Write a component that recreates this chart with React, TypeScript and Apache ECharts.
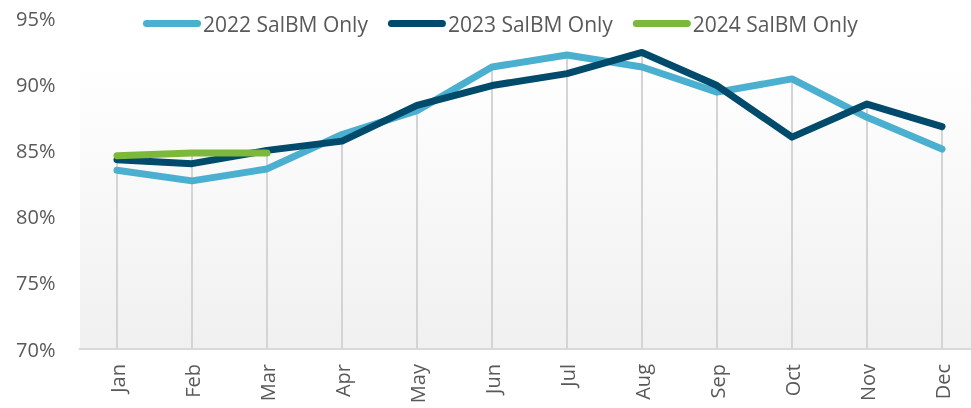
import React, { useEffect, useRef } from "react";
import * as echarts from "echarts";

const months = ["Jan", "Feb", "Mar", "Apr", "May", "Jun", "Jul", "Aug", "Sep", "Oct", "Nov", "Dec"];
const s2022 = [83.5, 82.7, 83.6, 86.2, 88.0, 91.3, 92.2, 91.3, 89.4, 90.4, 87.5, 85.1];
const s2023 = [84.3, 84.0, 85.0, 85.7, 88.4, 89.9, 90.8, 92.4, 89.9, 86.0, 88.5, 86.8];
const s2024 = [84.6, 84.8, 84.8];
const yTicks = { min: 70, max: 95, interval: 5 };

const names = ["2022 SalBM Only", "2023 SalBM Only", "2024 SalBM Only"];
const colors = ["#4bb0cf", "#004b6b", "#7cb83c"];

export default function App() {
  const ref = useRef<HTMLDivElement>(null);
  useEffect(() => {
    if (!ref.current) return;
    const chart = echarts.init(ref.current, null, { renderer: "svg" });
    const all = [s2022, s2023, s2024];
    const dropTops = months.map((_, i) => {
      const vals = all.map((s) => s[i]).filter((v) => v !== undefined);
      return Math.max(...vals);
    });
    const roundIcon =
      "path://M3.5,0 L54.5,0 A3.5,3.5 0 0 1 54.5,7 L3.5,7 A3.5,3.5 0 0 1 3.5,0 Z";
    const lineSeries = [s2022, s2023, s2024].map((d, k) => ({
      type: "line",
      name: names[k],
      data: d,
      symbol: "none",
      z: 3 + k,
      lineStyle: { color: colors[k], width: 7, cap: "round", join: "round" },
      itemStyle: { color: colors[k] },
    }));
    chart.setOption({
      animation: false,
      textStyle: { fontFamily: "Open Sans" },
      graphic: [
        {
          type: "rect",
          z: -10,
          silent: true,
          shape: { x: 80, y: 57, width: 900, height: 292 },
          style: {
            fill: new echarts.graphic.LinearGradient(0, 0, 0, 1, [
              { offset: 0, color: "#ffffff" },
              { offset: 1, color: "#f0f0f0" },
            ]),
          },
        },
      ],
      legend: {
        data: names,
        left: 138,
        top: 8,
        itemWidth: 58,
        itemHeight: 7,
        itemGap: 20,
        icon: roundIcon,
        textStyle: { fontSize: 21, color: "#595959", fontFamily: "Open Sans", padding: [0, 0, 0, -3] },
      },
      grid: { left: 79.5, top: 18, right: 0.5, bottom: 59, containLabel: false },
      xAxis: {
        type: "category",
        data: months,
        axisLine: { lineStyle: { color: "#d9d9d9", width: 2 } },
        axisTick: { show: false },
        axisLabel: { rotate: 90, fontSize: 20, color: "#595959", margin: 15, fontFamily: "Open Sans" },
      },
      yAxis: {
        type: "value",
        min: yTicks.min,
        max: yTicks.max,
        interval: yTicks.interval,
        axisLine: { show: false },
        axisTick: { show: false },
        splitLine: { show: false },
        axisLabel: {
          formatter: "{value}%",
          fontSize: 20,
          color: "#595959",
          margin: 24,
          fontFamily: "Open Sans",
        },
      },
      series: [
        {
          type: "bar",
          name: "drop",
          data: dropTops,
          barWidth: 2,
          silent: true,
          z: 1,
          itemStyle: { color: "#d4d4d4" },
        },
        ...lineSeries,
      ],
    });
    return () => chart.dispose();
  }, []);
  return (
    <div style={{ position: "fixed", left: 0, top: 0, width: 971, height: 408, overflow: "hidden" }}>
      <div ref={ref} style={{ width: 980, height: 408 }} />
    </div>
  );
}
